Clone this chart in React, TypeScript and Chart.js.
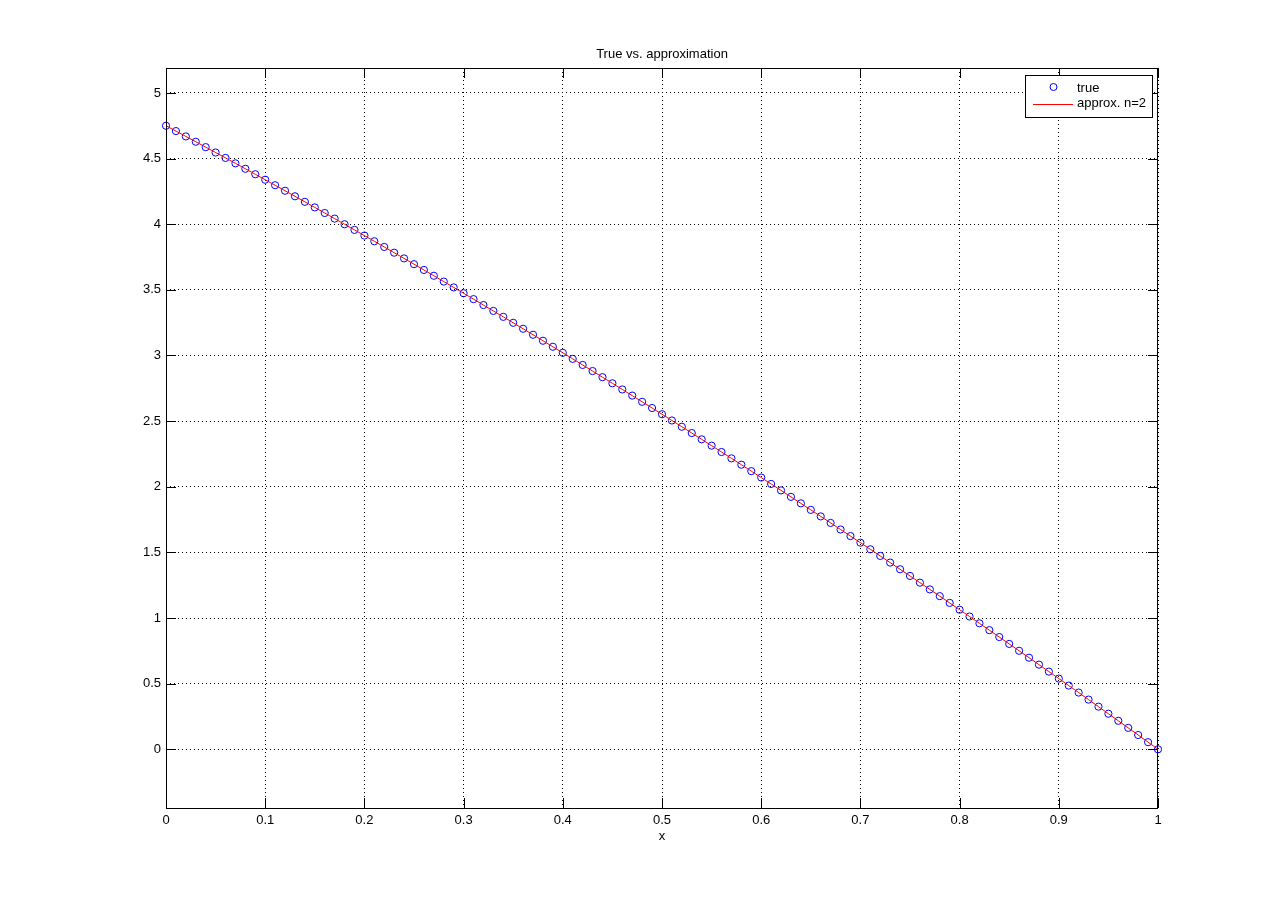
import React, { useEffect, useRef } from "react";
import { Chart, registerables } from "chart.js";

Chart.register(...registerables);

const titleText = "True vs. approximation";
const xLabel = "x";
const legendLabels = ["true", "approx. n=2"];

const xValues = [
  0, 0.01, 0.02, 0.03, 0.04, 0.05, 0.06, 0.07, 0.08, 0.09,
  0.1, 0.11, 0.12, 0.13, 0.14, 0.15, 0.16, 0.17, 0.18, 0.19,
  0.2, 0.21, 0.22, 0.23, 0.24, 0.25, 0.26, 0.27, 0.28, 0.29,
  0.3, 0.31, 0.32, 0.33, 0.34, 0.35, 0.36, 0.37, 0.38, 0.39,
  0.4, 0.41, 0.42, 0.43, 0.44, 0.45, 0.46, 0.47, 0.48, 0.49,
  0.5, 0.51, 0.52, 0.53, 0.54, 0.55, 0.56, 0.57, 0.58, 0.59,
  0.6, 0.61, 0.62, 0.63, 0.64, 0.65, 0.66, 0.67, 0.68, 0.69,
  0.7, 0.71, 0.72, 0.73, 0.74, 0.75, 0.76, 0.77, 0.78, 0.79,
  0.8, 0.81, 0.82, 0.83, 0.84, 0.85, 0.86, 0.87, 0.88, 0.89,
  0.9, 0.91, 0.92, 0.93, 0.94, 0.95, 0.96, 0.97, 0.98, 0.99,
  1,
];

const yTrue = [
  4.75, 4.7095, 4.6689, 4.6282, 4.5872, 4.5462, 4.505, 4.4637, 4.4222, 4.3806,
  4.3389, 4.297, 4.255, 4.2128, 4.1705, 4.128, 4.0854, 4.0427, 3.9998, 3.9568,
  3.9136, 3.8703, 3.8268, 3.7832, 3.7395, 3.6956, 3.6516, 3.6074, 3.5631, 3.5187,
  3.4741, 3.4294, 3.3845, 3.3395, 3.2943, 3.249, 3.2036, 3.158, 3.1123, 3.0664,
  3.0204, 2.9742, 2.928, 2.8815, 2.8349, 2.7882, 2.7414, 2.6944, 2.6472, 2.5999,
  2.5525, 2.5049, 2.4572, 2.4094, 2.3614, 2.3132, 2.2649, 2.2165, 2.168, 2.1192,
  2.0704, 2.0214, 1.9723, 1.923, 1.8736, 1.824, 1.7743, 1.7245, 1.6745, 1.6244,
  1.5741, 1.5237, 1.4731, 1.4224, 1.3716, 1.3206, 1.2695, 1.2182, 1.1668, 1.1153,
  1.0636, 1.0118, 0.9598, 0.9077, 0.8554, 0.803, 0.7505, 0.6978, 0.645, 0.592,
  0.5389, 0.4856, 0.4323, 0.3787, 0.325, 0.2712, 0.2173, 0.1632, 0.1089, 0.0545,
  0,
];

// the approximation curve reads the same as the true values in the picture
const yApprox = yTrue.slice();

const xTicks = [0, 0.1, 0.2, 0.3, 0.4, 0.5, 0.6, 0.7, 0.8, 0.9, 1];
const yTicks = [0, 0.5, 1, 1.5, 2, 2.5, 3, 3.5, 4, 4.5, 5];

const FONT = "Arial, 'Liberation Sans', Helvetica, sans-serif";

const matlabPlugin = {
  id: "matlabDecor",
  afterDraw(chart: any) {
    const { ctx, chartArea } = chart;
    const { left, right, top, bottom } = chartArea;
    const xs = chart.scales.x;
    const ys = chart.scales.y;
    ctx.save();
    ctx.strokeStyle = "#000";
    ctx.lineWidth = 1;
    ctx.setLineDash([]);
    // frame
    ctx.strokeRect(left + 0.5, top + 0.5, right - left - 1, bottom - top);
    // inner ticks
    const tl = 10;
    ctx.beginPath();
    xTicks.forEach((v) => {
      const px = Math.round(xs.getPixelForValue(v)) + 0.5;
      ctx.moveTo(px, bottom);
      ctx.lineTo(px, bottom - tl);
      ctx.moveTo(px, top);
      ctx.lineTo(px, top + tl);
    });
    yTicks.forEach((v) => {
      const py = Math.round(ys.getPixelForValue(v)) + 0.5;
      ctx.moveTo(left, py);
      ctx.lineTo(left + tl, py);
      ctx.moveTo(right, py);
      ctx.lineTo(right - tl, py);
    });
    ctx.stroke();

    // title and x label
    ctx.fillStyle = "#000";
    ctx.font = `13px ${FONT}`;
    ctx.textAlign = "center";
    ctx.textBaseline = "alphabetic";
    const cx = (left + right) / 2;
    ctx.fillText(titleText, cx, 58);
    ctx.fillText(xLabel, cx, 840);

    // legend
    const lx = 1025, ly = 75, lw = 127, lh = 42;
    ctx.fillStyle = "#fff";
    ctx.fillRect(lx, ly, lw, lh);
    ctx.strokeStyle = "#000";
    ctx.strokeRect(lx + 0.5, ly + 0.5, lw, lh);
    // marker
    ctx.strokeStyle = "#0000ff";
    ctx.beginPath();
    ctx.arc(1053.5, 87, 3.5, 0, Math.PI * 2);
    ctx.stroke();
    // line
    ctx.strokeStyle = "#ff0000";
    ctx.beginPath();
    ctx.moveTo(1033, 104.5);
    ctx.lineTo(1073, 104.5);
    ctx.stroke();
    ctx.fillStyle = "#000";
    ctx.textAlign = "left";
    ctx.fillText(legendLabels[0], 1077, 92);
    ctx.fillText(legendLabels[1], 1077, 107);
    ctx.restore();
  },
};

export default function App() {
  const canvasRef = useRef<HTMLCanvasElement | null>(null);

  useEffect(() => {
    const canvas = canvasRef.current;
    if (!canvas) return;
    const chart = new Chart(canvas, {
      type: "scatter",
      data: {
        datasets: [
          {
            label: legendLabels[1],
            data: xValues.map((x, i) => ({ x, y: yApprox[i] })),
            showLine: true,
            borderColor: "#ff0000",
            borderWidth: 1,
            pointRadius: 0,
            fill: false,
            clip: false,
            order: 0,
          },
          {
            label: legendLabels[0],
            data: xValues.map((x, i) => ({ x, y: yTrue[i] })),
            showLine: false,
            pointStyle: "circle",
            pointRadius: 3.6,
            pointBorderWidth: 1,
            borderColor: "#0000ff",
            backgroundColor: "rgba(0,0,0,0)",
            pointBackgroundColor: "rgba(0,0,0,0)",
            pointBorderColor: "#0000ff",
            clip: false,
            order: 1,
          },
        ],
      },
      options: {
        animation: false,
        responsive: false,
        devicePixelRatio: 1,
        layout: { padding: { left: 0, top: 68, right: 122, bottom: 0 } },
        plugins: {
          legend: { display: false },
          title: { display: false },
          tooltip: { enabled: false },
        },
        scales: {
          x: {
            type: "linear",
            min: 0,
            max: 1,
            afterBuildTicks: (scale: any) => {
              scale.ticks = xTicks.map((v) => ({ value: v }));
            },
            afterFit: (scale: any) => {
              scale.height = 100;
            },
            grid: { color: "#000", lineWidth: 1, drawTicks: false },
            border: { display: false, dash: [1, 3] },
            ticks: {
              color: "#000",
              font: { family: FONT, size: 13 },
              padding: 5,
              maxRotation: 0,
              autoSkip: false,
              callback: (v: any) => String(v),
            },
          },
          y: {
            type: "linear",
            min: -0.447,
            max: 5.19,
            afterBuildTicks: (scale: any) => {
              scale.ticks = yTicks.map((v) => ({ value: v }));
            },
            afterFit: (scale: any) => {
              scale.width = 166;
            },
            grid: { color: "#000", lineWidth: 1, drawTicks: false },
            border: { display: false, dash: [1, 3] },
            ticks: {
              color: "#000",
              font: { family: FONT, size: 13 },
              padding: 5,
              autoSkip: false,
              callback: (v: any) => String(v),
            },
          },
        },
      },
      plugins: [matlabPlugin],
    });
    return () => chart.destroy();
  }, []);

  return (
    <div style={{ position: "absolute", left: 0, top: 0, width: 1280, height: 908, background: "#fff" }}>
      <canvas ref={canvasRef} width={1280} height={908} style={{ display: "block", width: 1280, height: 908 }} />
    </div>
  );
}
